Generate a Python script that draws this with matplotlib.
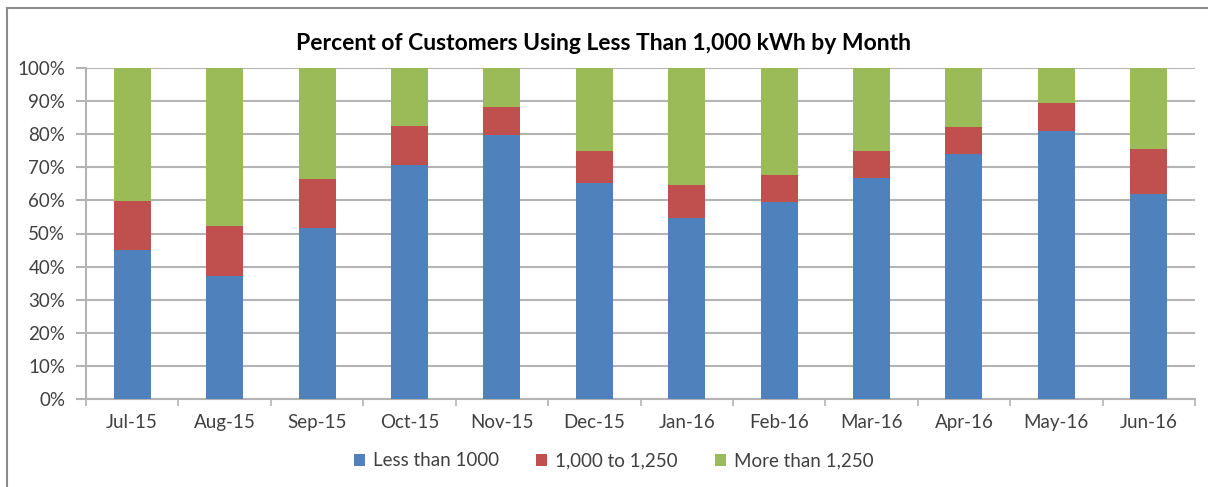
import numpy as np
import matplotlib.pyplot as plt
from matplotlib.lines import Line2D
from matplotlib.ticker import FuncFormatter

plt.rcParams['font.family'] = ['Lato', 'DejaVu Sans']

months = ["Jul-15", "Aug-15", "Sep-15", "Oct-15", "Nov-15", "Dec-15",
          "Jan-16", "Feb-16", "Mar-16", "Apr-16", "May-16", "Jun-16"]
# shares in percent
less_1000 = np.array([44.9, 37.2, 51.6, 70.7, 79.8, 65.3,
                      54.6, 59.6, 66.9, 73.9, 81.0, 62.0])
upto_1250_top = np.array([59.8, 52.2, 66.5, 82.5, 88.3, 74.9,
                          64.8, 67.8, 74.9, 82.2, 89.5, 75.6])
mid_1250 = upto_1250_top - less_1000
more_1250 = 100 - upto_1250_top

c_blue = "#4F81BD"
c_red = "#C0504D"
c_green = "#9BBB59"
grid_c = "#b4b4b4"
txt_c = "#404040"

fig = plt.figure(figsize=(12.08, 4.87), dpi=100)
ax = fig.add_axes([86 / 1208, 1 - 399 / 487, (1195 - 86) / 1208, (399 - 68) / 487])

x = np.arange(len(months))
w = 0.40
ax.bar(x, less_1000, w, color=c_blue, label="Less than 1000", zorder=3)
ax.bar(x, mid_1250, w, bottom=less_1000, color=c_red, label="1,000 to 1,250", zorder=3)
ax.bar(x, more_1250, w, bottom=upto_1250_top, color=c_green, label="More than 1,250", zorder=3)

ax.set_xlim(-0.5, len(months) - 0.5)
ax.set_ylim(0, 100)
ax.set_yticks(np.arange(0, 101, 10))
ax.yaxis.set_major_formatter(FuncFormatter(lambda v, p: f"{v:.0f}%"))
ax.yaxis.grid(True, color=grid_c, lw=1.5, zorder=0)
ax.tick_params(axis='y', length=7, width=1.5, color=grid_c, labelsize=13.5,
               labelcolor=txt_c, pad=8)

ax.set_xticks(x)
ax.set_xticklabels(months)
ax.set_xticks(np.arange(-0.5, len(months)), minor=True)
ax.tick_params(axis='x', which='major', length=0, labelsize=13.5,
               labelcolor=txt_c, pad=11)
ax.tick_params(axis='x', which='minor', length=5, width=1.2, color=grid_c)

for s in ['top', 'right']:
    ax.spines[s].set_visible(False)
for s in ['left', 'bottom']:
    ax.spines[s].set_color(grid_c)
    ax.spines[s].set_linewidth(1.5)

fig.text(0.5, 1 - 44 / 487, "Percent of Customers Using Less Than 1,000 kWh by Month",
         ha='center', va='center', fontsize=16.5, fontweight='bold', color='black')

handles, labels = ax.get_legend_handles_labels()
fig.legend(handles, labels, loc='center', bbox_to_anchor=(0.508, 1 - 461 / 487),
           ncol=3, frameon=False, fontsize=13.5, handlelength=0.6, handleheight=0.6,
           handletextpad=0.4, columnspacing=2.0, labelcolor=txt_c)

# outer chart border
fig.add_artist(Line2D([7 / 1208, 7 / 1208], [0, 1 - 8 / 487], color="#8c8c8c", lw=1.5))
fig.add_artist(Line2D([7 / 1208, 1], [1 - 8 / 487, 1 - 8 / 487], color="#8c8c8c", lw=1.5))

fig.savefig("out.png", dpi=100)
